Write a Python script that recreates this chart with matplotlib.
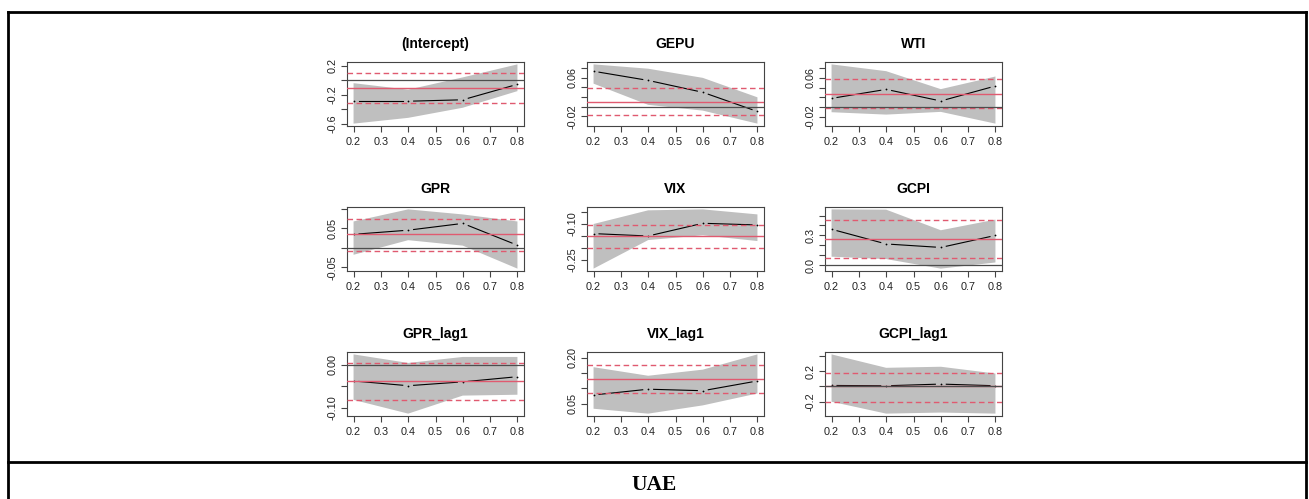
import matplotlib
matplotlib.use("Agg")
import matplotlib.pyplot as plt
from matplotlib.lines import Line2D
import numpy as np

# ---------------- data ----------------
taus = [0.2, 0.4, 0.6, 0.8]
x_ticks = [0.2, 0.3, 0.4, 0.5, 0.6, 0.7, 0.8]
x_tick_labels = ["0.2", "0.3", "0.4", "0.5", "0.6", "0.7", "0.8"]
panel_titles = ["(Intercept)", "GEPU", "WTI", "GPR", "VIX", "GCPI",
                "GPR_lag1", "VIX_lag1", "GCPI_lag1"]
caption = "UAE"

# quantile estimates, lower and upper confidence band, OLS coef + CI
est_intercept = [-0.29, -0.29, -0.27, -0.056]
lo_intercept = [-0.60, -0.52, -0.38, -0.15]
hi_intercept = [-0.04, -0.13, 0.04, 0.22]
ols_intercept = [-0.104, -0.315, 0.094]
yt_intercept = [-0.6, -0.4, -0.2, 0.0, 0.2]
yl_intercept = ["-0.6", "", "-0.2", "", "0.2"]

est_gepu = [0.0737, 0.0547, 0.030, -0.0098]
lo_gepu = [0.048, 0.004, -0.008, -0.035]
hi_gepu = [0.088, 0.079, 0.060, 0.0196]
ols_gepu = [0.0105, -0.0175, 0.0386]
yt_gepu = [-0.02, 0.0, 0.02, 0.04, 0.06, 0.08]
yl_gepu = ["-0.02", "", "", "", "0.06", ""]

est_wti = [0.018, 0.0365, 0.0126, 0.0435]
lo_wti = [-0.0105, -0.0154, -0.0098, -0.034]
hi_wti = [0.088, 0.074, 0.037, 0.063]
ols_wti = [0.0267, -0.0028, 0.0575]
yt_wti = [-0.02, 0.0, 0.02, 0.04, 0.06, 0.08]
yl_wti = ["-0.02", "", "", "", "0.06", ""]

est_gpr = [0.035, 0.0456, 0.063, 0.007]
lo_gpr = [-0.0175, 0.020, 0.006, -0.053]
hi_gpr = [0.068, 0.099, 0.086, 0.068]
ols_gpr = [0.035, -0.007, 0.074]
yt_gpr = [-0.05, 0.0, 0.05, 0.10]
yl_gpr = ["-0.05", "", "0.05", ""]

est_vix = [-0.14, -0.15, -0.097, -0.104]
lo_vix = [-0.286, -0.167, -0.147, -0.171]
hi_vix = [-0.10, -0.043, -0.039, -0.06]
ols_vix = [-0.151, -0.20, -0.103]
yt_vix = [-0.25, -0.20, -0.15, -0.10, -0.05]
yl_vix = ["-0.25", "", "", "-0.10", ""]

est_gcpi = [0.362, 0.214, 0.179, 0.30]
lo_gcpi = [0.086, 0.062, -0.034, 0.028]
hi_gcpi = [0.562, 0.559, 0.352, 0.459]
ols_gcpi = [0.259, 0.069, 0.455]
yt_gcpi = [0.0, 0.1, 0.2, 0.3, 0.4, 0.5]
yl_gcpi = ["0.0", "", "", "0.3", "", ""]

est_gpr_lag1 = [-0.038, -0.049, -0.040, -0.028]
lo_gpr_lag1 = [-0.082, -0.114, -0.072, -0.070]
hi_gpr_lag1 = [0.024, 0.004, 0.018, 0.018]
ols_gpr_lag1 = [-0.038, -0.082, 0.004]
yt_gpr_lag1 = [-0.10, -0.05, 0.0]
yl_gpr_lag1 = ["-0.10", "", "0.00"]

est_vix_lag1 = [0.078, 0.097, 0.092, 0.124]
lo_vix_lag1 = [0.033, 0.017, 0.044, 0.083]
hi_vix_lag1 = [0.169, 0.141, 0.161, 0.211]
ols_vix_lag1 = [0.131, 0.083, 0.177]
yt_vix_lag1 = [0.05, 0.10, 0.15, 0.20]
yl_vix_lag1 = ["0.05", "", "", "0.20"]

est_gcpi_lag1 = [0.013, 0.009, 0.031, 0.009]
lo_gcpi_lag1 = [-0.20, -0.356, -0.342, -0.356]
hi_gcpi_lag1 = [0.42, 0.244, 0.258, 0.169]
ols_gcpi_lag1 = [0.0, -0.20, 0.178]
yt_gcpi_lag1 = [-0.2, 0.0, 0.2, 0.4]
yl_gcpi_lag1 = ["-0.2", "", "0.2", ""]

panels = [
    (est_intercept, lo_intercept, hi_intercept, ols_intercept, yt_intercept, yl_intercept),
    (est_gepu, lo_gepu, hi_gepu, ols_gepu, yt_gepu, yl_gepu),
    (est_wti, lo_wti, hi_wti, ols_wti, yt_wti, yl_wti),
    (est_gpr, lo_gpr, hi_gpr, ols_gpr, yt_gpr, yl_gpr),
    (est_vix, lo_vix, hi_vix, ols_vix, yt_vix, yl_vix),
    (est_gcpi, lo_gcpi, hi_gcpi, ols_gcpi, yt_gcpi, yl_gcpi),
    (est_gpr_lag1, lo_gpr_lag1, hi_gpr_lag1, ols_gpr_lag1, yt_gpr_lag1, yl_gpr_lag1),
    (est_vix_lag1, lo_vix_lag1, hi_vix_lag1, ols_vix_lag1, yt_vix_lag1, yl_vix_lag1),
    (est_gcpi_lag1, lo_gcpi_lag1, hi_gcpi_lag1, ols_gcpi_lag1, yt_gcpi_lag1, yl_gcpi_lag1),
]

# ---------------- styling / layout ----------------
W, H = 1309, 499
plt.rcParams["font.family"] = ["Liberation Sans", "DejaVu Sans"]
fig = plt.figure(figsize=(W / 100, H / 100), dpi=100)

band_col = "#BFBFBF"
ols_col = "#E05A70"
zero_col = "#4D4D4D"
ink = "#222222"

col_left = [347, 587, 825]
row_top = [62, 207, 352]
ax_w, ax_h = 177, 64


def r_range(vals):
    lo, hi = min(vals), max(vals)
    d = (hi - lo) * 0.04
    return lo - d, hi + d


for k, (est, lo, hi, ols, yt, yl) in enumerate(panels):
    r, c = divmod(k, 3)
    x0 = col_left[c]
    y0 = row_top[r]
    ax = fig.add_axes([x0 / W, 1 - (y0 + ax_h) / H, ax_w / W, ax_h / H])

    # confidence band
    ax.fill(list(taus) + list(taus[::-1]), list(lo) + list(hi[::-1]),
            color=band_col, lw=0, zorder=1)
    # estimates: type="b" (points with gapped line segments)
    f = 0.10
    for i in range(len(taus) - 1):
        xa, xb = taus[i], taus[i + 1]
        ya, yb = est[i], est[i + 1]
        ax.plot([xa + f * (xb - xa), xb - f * (xb - xa)],
                [ya + f * (yb - ya), yb - f * (yb - ya)],
                color="black", lw=0.8, zorder=3)
    ax.plot(taus, est, ls="none", marker="o", ms=1.3, mew=0, color="black", zorder=3)
    # OLS line and CI
    ax.axhline(ols[0], color=ols_col, lw=1.0, zorder=4)
    ax.axhline(ols[1], color=ols_col, lw=1.0, ls=(0, (4, 2.5)), zorder=4)
    ax.axhline(ols[2], color=ols_col, lw=1.0, ls=(0, (4, 2.5)), zorder=4)
    # zero line
    ax.axhline(0, color=zero_col, lw=0.9, zorder=5)

    ax.set_xlim(r_range(taus))
    ax.set_ylim(r_range(list(lo) + list(hi)))
    ax.set_xticks(x_ticks)
    ax.set_xticklabels(x_tick_labels)
    ax.set_yticks(yt)
    ax.set_yticklabels(yl, rotation=90, va="center")
    ax.tick_params(axis="both", direction="out", length=4.5, width=0.8,
                   colors="#444444", labelcolor=ink, labelsize=7.8)
    ax.tick_params(axis="x", pad=3.5)
    ax.tick_params(axis="y", pad=2.5)
    for s in ax.spines.values():
        s.set_color("#444444")
        s.set_linewidth(0.8)
    ax.set_title(panel_titles[k], fontsize=10, fontweight="bold", pad=10, color="black")

# ---------------- surrounding table frame ----------------
def fx(x):
    return x / W


def fy(y):
    return 1 - y / H


lw = 2.0
fig.add_artist(Line2D([fx(8), fx(1306)], [fy(12), fy(12)], color="black", lw=lw))
fig.add_artist(Line2D([fx(8), fx(1306)], [fy(462), fy(462)], color="black", lw=lw))
fig.add_artist(Line2D([fx(8), fx(8)], [fy(12), fy(499)], color="black", lw=lw))
fig.add_artist(Line2D([fx(1306), fx(1306)], [fy(12), fy(499)], color="black", lw=lw))

fig.text(fx(654), fy(485), caption, ha="center", va="center", fontsize=15.5,
         fontweight="bold", family=["Liberation Serif", "DejaVu Serif"])

fig.savefig("out.png", dpi=100)
